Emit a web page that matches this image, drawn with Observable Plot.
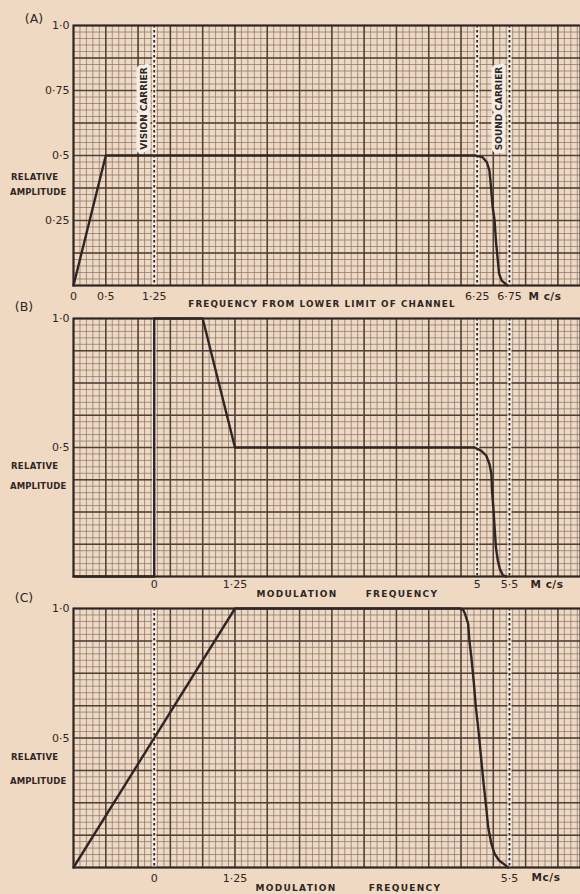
<!DOCTYPE html>
<html><head><meta charset="utf-8">
<script src="https://cdn.jsdelivr.net/npm/d3@7"></script>
<script src="https://cdn.jsdelivr.net/npm/@observablehq/plot@0.6"></script>
<style>
body{margin:0;background:#efd9c3;}
#page{position:relative;width:580px;height:894px;overflow:hidden;background:#efd9c3;font-family:"DejaVu Sans",sans-serif;color:#2f2624;}
.panel{position:absolute;left:0;width:580px;}
.lbl{position:absolute;white-space:nowrap;line-height:1;transform:translate(-50%,-50%);}
.left{transform:translate(0,-50%);}
.b{font-weight:bold;}
</style></head><body><div id="page"></div>
<script>
// ---------- data ----------
// Panel (A): frequency from lower limit of channel (Mc/s) vs relative amplitude
const aFreq = [0, 0.5, 6.22, 6.33, 6.40, 6.44, 6.46, 6.49, 6.52, 6.54, 6.57, 6.59, 6.63, 6.72];
const aAmp  = [0, 0.5, 0.5, 0.494, 0.474, 0.442, 0.391, 0.301, 0.25, 0.173, 0.096, 0.045, 0.019, 0];
const aCarriers = [1.25, 6.25, 6.75];
const aCarrierLabels = [{x: 1.25, label: "VISION CARRIER"}, {x: 6.75, label: "SOUND CARRIER"}];
const aXTicks = [0, 0.5, 1.25, 6.25, 6.75];
const aYTicks = [1, 0.75, 0.5, 0.25];

// Panel (B): modulation frequency vs relative amplitude
const bFreq = [-1.25, 0, 0, 0.75, 1.25, 4.96, 5.06, 5.14, 5.19, 5.22, 5.23, 5.25, 5.27, 5.29, 5.32, 5.35, 5.40, 5.45];
const bAmp  = [0, 0, 1, 1, 0.5, 0.5, 0.488, 0.469, 0.436, 0.398, 0.333, 0.269, 0.191, 0.114, 0.062, 0.03, 0.004, 0];
const bCarriers = [0, 5, 5.5];
const bXTicks = [0, 1.25, 5, 5.5];
const bYTicks = [1, 0.5];

// Panel (C): modulation frequency vs relative amplitude
const cFreq = [-1.25, 1.25, 4.73, 4.78, 4.81, 4.86, 4.88, 4.91, 4.95, 4.98, 5.02, 5.06, 5.10, 5.14, 5.17, 5.22, 5.27, 5.34, 5.42, 5.48];
const cAmp  = [0, 1, 1, 0.996, 0.981, 0.942, 0.876, 0.812, 0.709, 0.619, 0.529, 0.426, 0.323, 0.233, 0.156, 0.092, 0.053, 0.027, 0.012, 0];
const cCarriers = [0, 5.5];
const cXTicks = [0, 1.25, 5.5];
const cYTicks = [1, 0.5];

// ---------- drawing ----------
const INK = "#2f2624";
const fmt = d => d === 1 ? "1·0" : String(d).replace(".", "·");
const page = document.getElementById("page");

function panel({freq, amp, xDomain, carriers, carrierLabels = [], xTicks, yTicks, top, height, marginTop, marginBottom, xPad}) {
  const data = freq.map((f, i) => ({f, a: amp[i]}));
  const nx = Math.round((xDomain[1] - xDomain[0]) / 0.1);
  const minorX = d3.range(0, nx + 1).map(i => xDomain[0] + i * 0.1);
  const majorX = minorX.filter((d, i) => i % 5 === 0);
  const minorY = d3.range(0, 41).map(i => i * 0.025);
  const majorY = minorY.filter((d, i) => i % 5 === 0);
  const svg = Plot.plot({
    width: 580, height, marginLeft: 73, marginRight: 0, marginTop, marginBottom,
    x: {domain: xDomain, ticks: xTicks, tickFormat: fmt, tickSize: 0, tickPadding: xPad, label: null},
    y: {domain: [0, 1], ticks: yTicks, tickFormat: fmt, tickSize: 0, tickPadding: 4, label: null},
    style: {background: "transparent", overflow: "visible", fontFamily: "DejaVu Sans, sans-serif", fontSize: "11px", color: INK},
    marks: [
      Plot.ruleX(minorX, {stroke: "#8a776f", strokeWidth: 0.75}),
      Plot.ruleY(minorY, {stroke: "#8a776f", strokeWidth: 0.75}),
      Plot.ruleX(majorX, {stroke: "#4f403a", strokeWidth: 1.5}),
      Plot.ruleY(majorY, {stroke: "#4f403a", strokeWidth: 1.5}),
      Plot.ruleX(carriers, {stroke: "#f6ece0", strokeWidth: 4}),
      Plot.ruleX(carriers, {stroke: INK, strokeWidth: 1.8, strokeDasharray: "2.5,2.5"}),
      Plot.frame({stroke: INK, strokeWidth: 2}),
      Plot.line(data, {x: "f", y: "a", stroke: INK, strokeWidth: 2.4, strokeLinejoin: "round"}),
      Plot.text(carrierLabels, {x: "x", text: "label", rotate: -90, frameAnchor: "middle", dx: -10, dy: -47,
        fill: INK, stroke: "#f7eee3", strokeWidth: 7, fontSize: 9, fontWeight: "bold"})
    ]
  });
  const div = document.createElement("div");
  div.className = "panel";
  div.style.top = top + "px";
  div.appendChild(svg);
  page.appendChild(div);
}

panel({freq: aFreq, amp: aAmp, xDomain: [0, 7.85], carriers: aCarriers, carrierLabels: aCarrierLabels,
  xTicks: aXTicks, yTicks: aYTicks, top: 0, height: 310, marginTop: 25, marginBottom: 25, xPad: 7});
panel({freq: bFreq, amp: bAmp, xDomain: [-1.25, 6.6], carriers: bCarriers,
  xTicks: bXTicks, yTicks: bYTicks, top: 300, height: 300, marginTop: 18, marginBottom: 24, xPad: 3.5});
panel({freq: cFreq, amp: cAmp, xDomain: [-1.25, 6.6], carriers: cCarriers,
  xTicks: cXTicks, yTicks: cYTicks, top: 595, height: 299, marginTop: 13, marginBottom: 27, xPad: 6.5});

// text overlays
function label(text, x, y, size, spacing, cls = "") {
  const d = document.createElement("div");
  d.className = "lbl " + cls;
  d.textContent = text;
  d.style.left = x + "px";
  d.style.top = y + "px";
  d.style.fontSize = size + "px";
  d.style.letterSpacing = spacing + "px";
  page.appendChild(d);
}
label("(A)", 34, 19, 12.5, 0);
label("(B)", 24, 307, 12.5, 0);
label("(C)", 24, 598, 12.5, 0);
label("FREQUENCY  FROM  LOWER  LIMIT  OF  CHANNEL", 322, 304, 8.8, 1.1, "b");
label("M c/s", 545, 296, 10.5, 0.5, "b");
label("M c/s", 547, 584, 10.5, 0.5, "b");
label("Mc/s", 546, 877, 10.5, 0.5, "b");
label("MODULATION", 297, 594, 9, 1.3, "b");
label("FREQUENCY", 402, 594, 9, 1.3, "b");
label("MODULATION", 296, 888, 9, 1.3, "b");
label("FREQUENCY", 405, 888, 9, 1.3, "b");
[[177, 192], [466, 486], [757, 781]].forEach(([r, a]) => {
  label("RELATIVE", 11, r, 8.5, 0.3, "left b");
  label("AMPLITUDE", 10, a, 8.5, 0.1, "left b");
});
</script>
</body></html>
